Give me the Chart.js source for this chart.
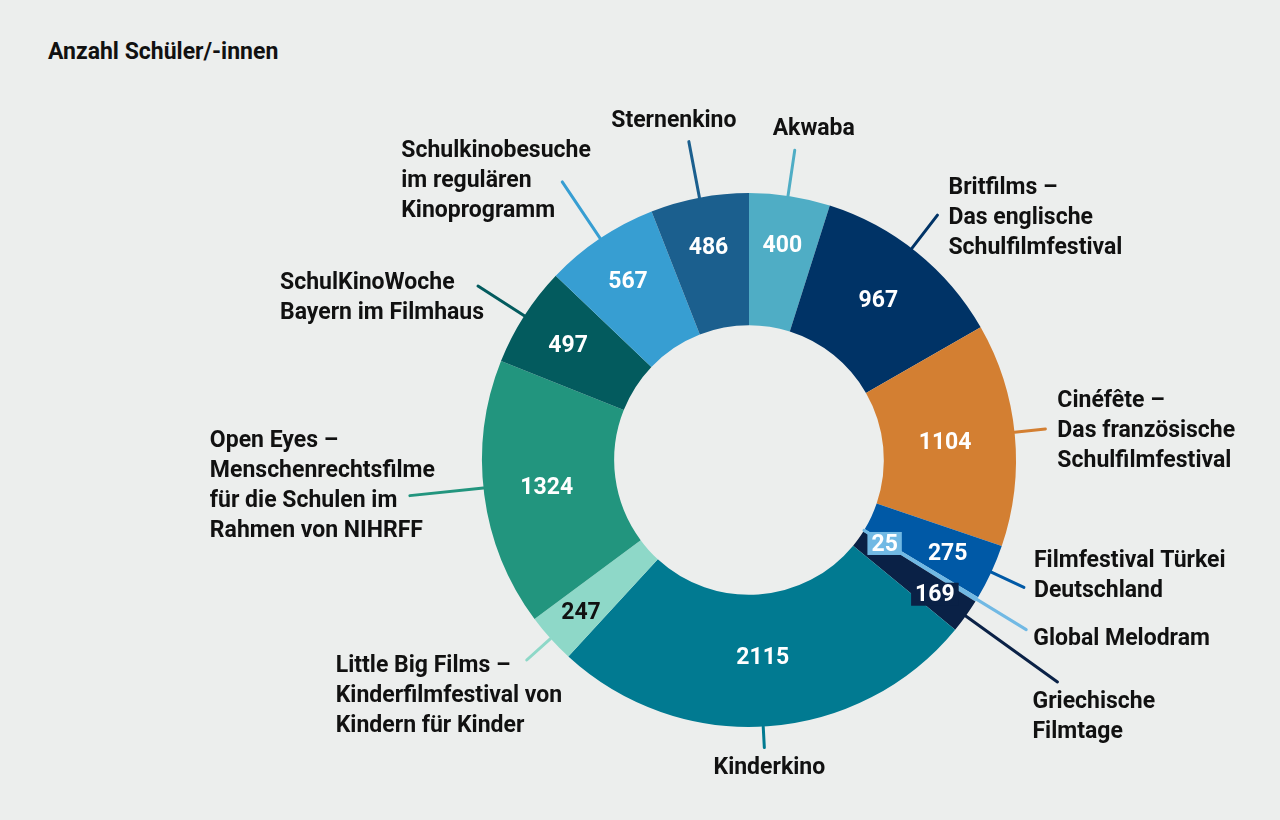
<!DOCTYPE html>
<html>
<head>
<meta charset="UTF-8">
<title>Anzahl Schüler/-innen</title>
<script src="https://cdn.jsdelivr.net/npm/chart.js"></script>
<style>
  body { margin: 0; background: #eceeed; }
  #wrap { position: relative; width: 1280px; height: 820px; }
  #title { position: absolute; left: 48px; top: 38px; font: bold 23px Roboto, sans-serif; color: #111; }
  canvas { position: absolute; left: 0; top: 0; }
</style>
</head>
<body>
<div id="wrap">
  <div id="title">Anzahl Schüler/-innen</div>
  <canvas id="donut" width="1280" height="820"></canvas>
</div>
<script>
// Categories (clockwise from top), one array entry per text line
const categories = [
  ['Akwaba'],
  ['Britfilms –', 'Das englische', 'Schulfilmfestival'],
  ['Cinéfête –', 'Das französische', 'Schulfilmfestival'],
  ['Filmfestival Türkei', 'Deutschland'],
  ['Global Melodram'],
  ['Griechische', 'Filmtage'],
  ['Kinderkino'],
  ['Little Big Films –', 'Kinderfilmfestival von', 'Kindern für Kinder'],
  ['Open Eyes –', 'Menschenrechtsfilme', 'für die Schulen im', 'Rahmen von NIHRFF'],
  ['SchulKinoWoche', 'Bayern im Filmhaus'],
  ['Schulkinobesuche', 'im regulären', 'Kinoprogramm'],
  ['Sternenkino']
];
const students = [400, 967, 1104, 275, 25, 169, 2115, 247, 1324, 497, 567, 486];
const sliceColors = ['#4fadc5', '#003366', '#d37f32', '#0059a6', '#71b9e4', '#0a2146',
                     '#017a91', '#8ed8c8', '#22957e', '#035b5e', '#379ed2', '#1b5f8e'];

// leader line + text placement (t = position inside slice, len = beyond outer ring,
// dx/dy = text offset from line end, first line centre)
const leaderLayout = [
  { t: 0.477, len: 46, dx: 19, dy: -21, align: 'center' },
  { t: 0.469, len: 42, dx: 11, dy: -27, align: 'left' },
  { t: 0.49, len: 31, dx: 12, dy: -28, align: 'left' },
  { t: 0.5, len: 36, dx: 10, dy: -26, align: 'left' },
  { t: 0.5, len: 58, dx: 7, dy: 10, align: 'left', fromInner: true },
  { t: 0.5, len: 113, dx: -25, dy: 20, align: 'left' },
  { t: 0.51, len: 21, dx: 5, dy: 21, align: 'center' },
  { t: 0.5, len: 32, dx: -191, dy: 6, align: 'left' },
  { t: 0.524, len: 74, dx: -200, dy: -54, align: 'left' },
  { t: 0.5, len: 55, dx: -198, dy: -3, align: 'left' },
  { t: 0.5, len: 68, dx: -161, dy: -31, align: 'left' },
  { t: 0.5, len: 57, dx: -15, dy: -20, align: 'center' }
];
// value label placement inside the ring
const valueLayout = [
  { r: 218 }, { r: 206 }, { r: 197 }, { r: 219 },
  { r: 159, box: '#71b9e4' }, { r: 229, box: '#0a2146' },
  { r: 197 }, { r: 226, color: '#111' }, { r: 204 }, { r: 215 }, { r: 217 }, { r: 218 }
];

const FONT = 'bold 23px Roboto, sans-serif';
const LINE_H = 30;

const labelPlugin = {
  id: 'sliceLabels',
  afterDatasetsDraw(chart) {
    const ctx = chart.ctx;
    const arcs = chart.getDatasetMeta(0).data;
    ctx.save();
    ctx.font = FONT;
    ctx.textBaseline = 'middle';
    arcs.forEach((arc, i) => {
      const lay = leaderLayout[i];
      const a = arc.startAngle + (arc.endAngle - arc.startAngle) * lay.t;
      const c = Math.cos(a), s = Math.sin(a);
      const r0 = lay.fromInner ? arc.innerRadius : arc.outerRadius;
      const r1 = arc.outerRadius + lay.len;
      const ex = arc.x + r1 * c, ey = arc.y + r1 * s;
      ctx.strokeStyle = sliceColors[i];
      ctx.lineWidth = 3;
      ctx.lineCap = 'round';
      ctx.beginPath();
      ctx.moveTo(arc.x + r0 * c, arc.y + r0 * s);
      ctx.lineTo(ex, ey);
      ctx.stroke();
      ctx.fillStyle = '#111';
      ctx.textAlign = lay.align;
      categories[i].forEach((line, k) => {
        ctx.fillText(line, ex + lay.dx, ey + lay.dy + k * LINE_H);
      });
    });
    // values on top of the lines
    ctx.textAlign = 'center';
    arcs.forEach((arc, i) => {
      const v = valueLayout[i];
      const a = (arc.startAngle + arc.endAngle) / 2;
      const x = arc.x + v.r * Math.cos(a), y = arc.y + v.r * Math.sin(a);
      const txt = String(students[i]);
      if (v.box) {
        const w = ctx.measureText(txt).width + 8;
        ctx.fillStyle = v.box;
        ctx.fillRect(x - w / 2, y - 11, w, 23);
      }
      ctx.fillStyle = v.color || '#fff';
      ctx.fillText(txt, x, y + 2);
    });
    ctx.restore();
  }
};

new Chart(document.getElementById('donut'), {
  type: 'doughnut',
  data: {
    labels: categories,
    datasets: [{
      data: students,
      backgroundColor: sliceColors,
      borderWidth: 0
    }]
  },
  options: {
    responsive: false,
    animation: false,
    cutout: '50.5%',
    layout: { padding: { left: 482, right: 264, top: 193, bottom: 93 } },
    plugins: { legend: { display: false }, tooltip: { enabled: false } }
  },
  plugins: [labelPlugin]
});
</script>
</body>
</html>
